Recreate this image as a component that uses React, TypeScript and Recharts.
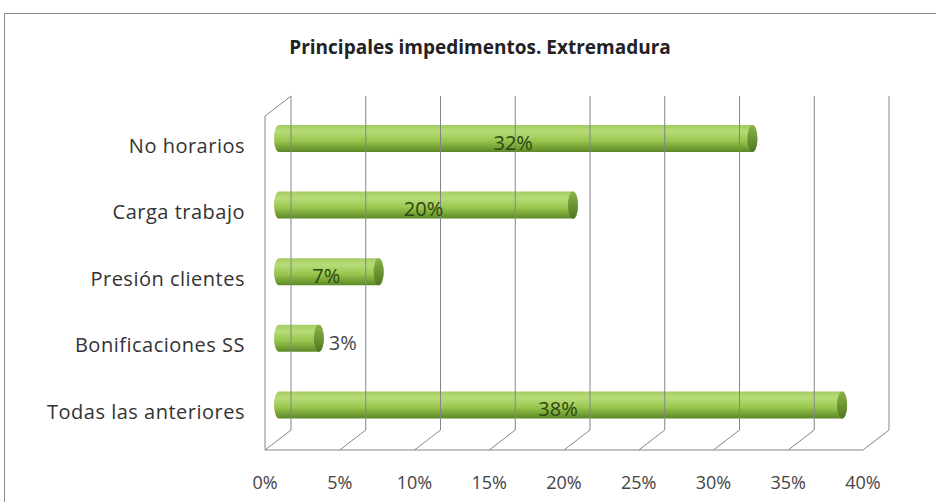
import { BarChart, Bar, XAxis, YAxis, LabelList } from 'recharts';

const categories = ['No horarios', 'Carga trabajo', 'Presión clientes', 'Bonificaciones SS', 'Todas las anteriores'];
const shares = [0.32, 0.2, 0.07, 0.03, 0.38];
const xTicks = [0, 0.05, 0.1, 0.15, 0.2, 0.25, 0.3, 0.35, 0.4];

const data = categories.map((name, i) => ({ name, value: shares[i] }));

const FONT = '"Open Sans", "Liberation Sans", sans-serif';
const PLOT_W = 598;
// fake 3d walls
const FRONT_DX = -9;
const BACK_DX = 17;
const FLOOR_FRONT_Y = 450;
const FLOOR_BACK_Y = 430;
const WALL_TOP_Y = 96;
const GRID = '#858585';

const pct = (v: number) => `${Math.round(v * 100)}%`;

function FloorTick(props: any) {
  const { x, payload, index } = props;
  const fx = x + FRONT_DX;
  const bx = x + BACK_DX;
  return (
    <g>
      <line x1={fx} y1={FLOOR_FRONT_Y} x2={bx} y2={FLOOR_BACK_Y} stroke={GRID} />
      <line x1={bx} y1={FLOOR_BACK_Y} x2={bx} y2={WALL_TOP_Y} stroke={GRID} />
      {index === 0 && (
        <g>
          <line x1={fx} y1={FLOOR_FRONT_Y} x2={fx + PLOT_W} y2={FLOOR_FRONT_Y} stroke={GRID} />
          <line x1={fx} y1={FLOOR_FRONT_Y} x2={fx} y2={WALL_TOP_Y + 20} stroke={GRID} />
          <line x1={fx} y1={WALL_TOP_Y + 20} x2={bx} y2={WALL_TOP_Y} stroke={GRID} />
        </g>
      )}
      <text x={fx} y={484} textAnchor="middle" dominantBaseline="middle" fill="#444" fontSize={18} fontFamily={FONT}>
        {pct(payload.value)}
      </text>
    </g>
  );
}

function CategoryTick(props: any) {
  const { x, y, payload } = props;
  return (
    <text
      x={x - 21}
      y={y + 9}
      textAnchor="end"
      dominantBaseline="middle"
      fill="#333"
      fontSize={20}
      letterSpacing={0.5}
      fontFamily={FONT}
    >
      {payload.value}
    </text>
  );
}

function Cylinder(props: any) {
  const { x, y, width, height } = props;
  const rx = 5;
  const ry = height / 2;
  const body = `M${x + rx},${y} L${x + width},${y} A${rx},${ry} 0 0 1 ${x + width},${y + height} L${x + rx},${y + height} A${rx},${ry} 0 0 1 ${x + rx},${y} Z`;
  return (
    <g>
      <path d={body} fill="url(#cylBody)" />
      <ellipse cx={x + width} cy={y + ry} rx={rx} ry={ry} fill="url(#cylCap)" />
    </g>
  );
}

function BarLabel(props: any) {
  const { x, y, width, height, value } = props;
  const inside = width > 50;
  return (
    <text
      x={inside ? x + width / 2 : x + width + 10}
      y={y + height / 2 + 6}
      textAnchor={inside ? 'middle' : 'start'}
      dominantBaseline="middle"
      fill={inside ? '#2c4610' : '#444'}
      fontSize={20}
      fontFamily={FONT}
    >
      {pct(value)}
    </text>
  );
}

export default function App() {
  return (
    <div style={{ position: 'absolute', left: 0, top: 0, width: 936, height: 502, overflow: 'hidden', background: '#fff' }}>
      <div style={{ position: 'absolute', left: 4, top: 13, width: 960, height: 520, border: '1px solid #8c8c8c' }} />
      <div
        style={{
          position: 'absolute',
          left: 0,
          width: 960,
          top: 34,
          textAlign: 'center',
          fontFamily: FONT,
          fontWeight: 700,
          fontSize: 19,
          color: '#222',
        }}
      >
        Principales impedimentos. Extremadura
      </div>
      <div style={{ position: 'absolute', left: 0, top: 0 }}>
        <BarChart width={936} height={502} data={data} layout="vertical" margin={{ top: 105, right: 64, bottom: 0, left: 24 }} barSize={27}>
          <defs>
            <linearGradient id="cylBody" x1="0" y1="0" x2="0" y2="1">
              <stop offset="0%" stopColor="#a4cc62" />
              <stop offset="25%" stopColor="#b6dc78" />
              <stop offset="60%" stopColor="#98c54d" />
              <stop offset="100%" stopColor="#5c8826" />
            </linearGradient>
            <linearGradient id="cylCap" x1="0" y1="0" x2="0" y2="1">
              <stop offset="0%" stopColor="#8ab448" />
              <stop offset="100%" stopColor="#4f7620" />
            </linearGradient>
          </defs>
          <XAxis
            type="number"
            domain={[0, 0.4]}
            ticks={xTicks}
            axisLine={false}
            tickLine={false}
            height={64}
            tick={<FloorTick />}
            interval={0}
          />
          <YAxis type="category" dataKey="name" width={250} axisLine={false} tickLine={false} tick={<CategoryTick />} interval={0} />
          <Bar dataKey="value" shape={<Cylinder />} isAnimationActive={false}>
            <LabelList dataKey="value" content={<BarLabel />} />
          </Bar>
        </BarChart>
      </div>
    </div>
  );
}
